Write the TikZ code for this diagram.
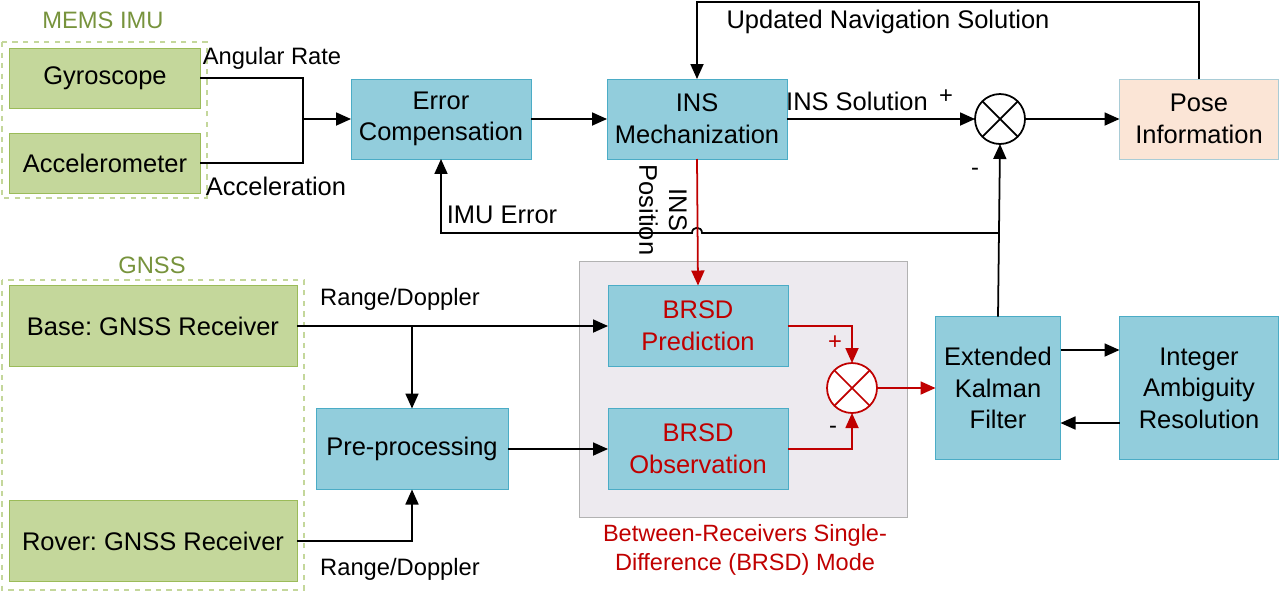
\documentclass[tikz,border=0pt]{standalone}
\usepackage{fontspec}
\setmainfont{Liberation Sans}
\frenchspacing
\usetikzlibrary{arrows.meta}
\definecolor{boxblue}{HTML}{92CDDC}
\definecolor{edgeblue}{HTML}{4BACC6}
\definecolor{boxgreen}{HTML}{C4D79B}
\definecolor{edgegreen}{HTML}{9BBB59}
\definecolor{labgreen}{HTML}{77933C}
\definecolor{boxpeach}{HTML}{FBE5D6}
\definecolor{edgepeach}{HTML}{A9CCD6}
\definecolor{modegray}{HTML}{EDEAEF}
\definecolor{darkred}{HTML}{C00000}
\tikzset{
  blk/.style={draw=edgeblue, fill=boxblue, align=center, inner sep=0pt, outer sep=0pt, font=\fontsize{14.5}{18}\selectfont},
  grn/.style={draw=edgegreen, fill=boxgreen, align=center, inner sep=0pt, outer sep=0pt, font=\fontsize{14.5}{18}\selectfont},
  sumnode/.style={circle, draw, line width=1pt, fill=white, minimum size=1cm, inner sep=0pt, outer sep=0pt,
    path picture={\draw[line width=1pt] (path picture bounding box.north west) -- (path picture bounding box.south east)
      (path picture bounding box.north east) -- (path picture bounding box.south west);}},
  lab/.style={font=\fontsize{13.5}{16}\selectfont},
  biglab/.style={font=\fontsize{14.5}{17}\selectfont},
  arr/.style={line width=1pt, -{Triangle[length=3mm,width=2.6mm]}},
  ln/.style={line width=1pt},
  grp/.style={draw=boxgreen, dashed, line width=0.6pt}
}
\begin{document}
\begin{tikzpicture}[x=0.02cm, y=-0.02cm]
\useasboundingbox (0,0) rectangle (1280,593);

\draw[grp] (2,42) rectangle (207,198);
\node[lab, text=labgreen] (imulab) at (103,20) {MEMS IMU};
\draw[grp] (2,280) rectangle (304,590);
\node[lab, text=labgreen] (gnsslab) at (152,265) {GNSS};
\draw[draw=gray!60, fill=modegray] (579,261) rectangle (907,517);

\node[grn, minimum width=3.82cm, minimum height=1.2cm] (gyro) at (105,78) {Gyroscope};
\node[grn, minimum width=3.82cm, minimum height=1.2cm] (acc) at (105,163) {Accelerometer};
\node[blk, minimum width=3.6cm, minimum height=1.6cm] (ec) at (441,119) {Error\\Compensation};
\node[blk, minimum width=3.6cm, minimum height=1.6cm] (mech) at (697,119) {INS\\Mechanization};
\node[sumnode] (sumtop) at (1000,119) {};
\node[blk, draw=edgepeach, fill=boxpeach, minimum width=3.18cm, minimum height=1.6cm] (pose) at (1199,119) {Pose\\Information};

\node[grn, minimum width=5.76cm, minimum height=1.62cm] (base) at (153,326) {Base: GNSS Receiver};
\node[grn, minimum width=5.76cm, minimum height=1.62cm] (rover) at (153,541) {Rover: GNSS Receiver};
\node[blk, minimum width=3.84cm, minimum height=1.62cm] (pre) at (412,449) {Pre-processing};
\node[blk, text=darkred, minimum width=3.6cm, minimum height=1.62cm] (pred) at (698,326) {BRSD\\Prediction};
\node[blk, text=darkred, minimum width=3.6cm, minimum height=1.62cm] (obs) at (698,449) {BRSD\\Observation};
\node[sumnode, draw=darkred, path picture={\draw[darkred, line width=1pt] (path picture bounding box.north west) -- (path picture bounding box.south east)
      (path picture bounding box.north east) -- (path picture bounding box.south west);}] (sumred) at (852,388) {};
\node[blk, minimum width=2.5cm, minimum height=2.86cm] (ekf) at (998,388) {Extended\\Kalman\\Filter};
\node[blk, minimum width=3.18cm, minimum height=2.86cm] (iar) at (1199,388) {Integer\\Ambiguity\\Resolution};

\coordinate (jimu) at (303,119);
\coordinate (jbase) at (412,326);
\coordinate (topl) at (697,2);
\coordinate (topr) at (1199,2);
\coordinate (errr) at (998,233);
\coordinate (errl) at (441,233);

\draw[ln] (gyro.east) -| (jimu);
\draw[ln] (acc.east) -| (jimu);
\draw[arr] (jimu) -- (ec.west);
\draw[arr] (ec.east) -- (mech.west);
\draw[arr] (mech.east) -- (sumtop.west);
\draw[arr] (sumtop.east) -- (pose.west);
\draw[arr] (pose.north) -- (topr) -- (topl) -- (mech.north);
\draw[arr] (ekf.north) -- (sumtop.south);
\draw[arr] (errr) -- (702,233) .. controls (702,226) and (692,226) .. (692,233) -- (errl) -- (ec.south);
\draw[arr, darkred] (mech.south) -- (pred.north);

\draw[arr] (base.east) -- (pred.west);
\draw[arr] (jbase) -- (pre.north);
\draw[arr] (rover.east) -| (pre.south);
\draw[arr] (pre.east) -- (obs.west);
\draw[arr, darkred] (pred.east) -| (sumred.north);
\draw[arr, darkred] (obs.east) -| (sumred.south);
\draw[arr, darkred] (sumred.east) -- (ekf.west);
\draw[arr] ([yshift=0.76cm]ekf.east) -- ([yshift=0.76cm]iar.west);
\draw[arr] ([yshift=-0.7cm]iar.west) -- ([yshift=-0.7cm]ekf.east);

\node[lab] (angl) at (272,58) {Angular Rate};
\node[biglab] (accl) at (276,186) {Acceleration};
\node[biglab] (updl) at (888,22) {Updated Navigation Solution};
\node[biglab] (insl) at (857,101) {INS Solution};
\node[lab] (plus1) at (946,97) {+};
\node[lab] (minus1) at (975,172) {-};
\node[biglab] (imuerr) at (502,215) {IMU Error};
\node[biglab, rotate=-90, align=center] (insp) at (663,210) {INS\\Position};
\node[lab] (rd1) at (400,299) {Range/Doppler};
\node[lab] (rd2) at (400,569) {Range/Doppler};
\node[lab, text=darkred] (plus2) at (835,343) {+};
\node[lab] (minus2) at (833,430) {-};
\node[text=darkred, align=center, font=\fontsize{13.4}{16.5}\selectfont] (model) at (745,550) {Between-Receivers Single-\\Difference (BRSD) Mode};
\end{tikzpicture}
\end{document}
